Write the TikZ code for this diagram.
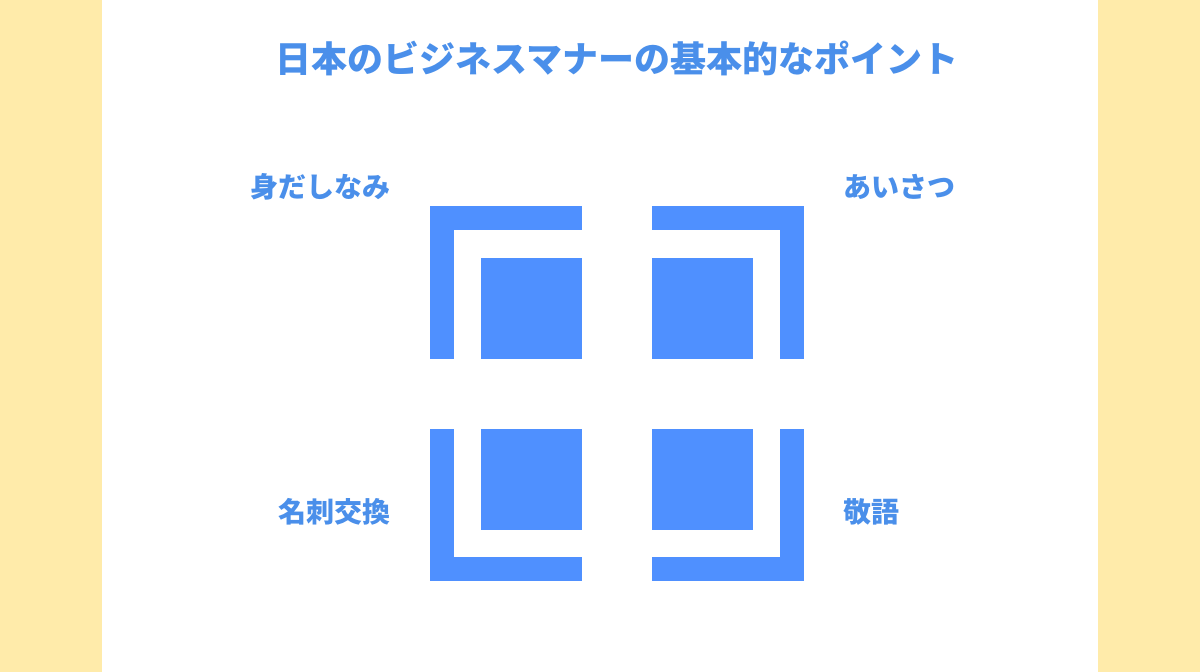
\documentclass[tikz,border=0pt]{standalone}
\usepackage{fontspec}
\newfontfamily\jpfont{Noto Sans CJK JP}
\usepackage{tikz}
\definecolor{paleyellow}{HTML}{FFEBAA}
\definecolor{markblue}{HTML}{4F90FF}
\definecolor{textblue}{HTML}{4A8FEA}
\tikzset{
	label text/.style = {text=textblue, font=\jpfont\bfseries\fontsize{28}{31}\selectfont, inner sep=0pt},
	title text/.style = {text=textblue, font=\jpfont\bfseries\fontsize{36}{40}\selectfont, inner sep=0pt}
}

\begin{document}
\begin{tikzpicture}[x=1pt, y=-1pt]
				\useasboundingbox (0,0) rectangle (1200,672);
				\draw[draw=none, fill=paleyellow] (0,0) rectangle (1200,672);
				\draw[draw=none, fill=white] (102,0) rectangle (1098,672);
				% corner brackets
				\draw[draw=none, fill=markblue] (430,206) rectangle (582,230);
				\draw[draw=none, fill=markblue] (430,206) rectangle (454,359);
				\draw[draw=none, fill=markblue] (652,206) rectangle (804,230);
				\draw[draw=none, fill=markblue] (780,206) rectangle (804,359);
				\draw[draw=none, fill=markblue] (430,429) rectangle (454,581);
				\draw[draw=none, fill=markblue] (430,557) rectangle (582,581);
				\draw[draw=none, fill=markblue] (780,429) rectangle (804,581);
				\draw[draw=none, fill=markblue] (652,557) rectangle (804,581);
				% inner squares
				\foreach \x in {481,652} {
					\foreach \y in {258,429} {
						\draw[draw=none, fill=markblue] (\x,\y) rectangle ++(101,101);
					}
				}
				\node[title text] (title) at (617,58) {日本のビジネスマナーの基本的なポイント};
				\node[label text, anchor=east] (midashinami) at (391,187) {身だしなみ};
				\node[label text, anchor=west] (aisatsu) at (843,187) {あいさつ};
				\node[label text, anchor=east] (meishi) at (391,512) {名刺交換};
				\node[label text, anchor=west] (keigo) at (843,512) {敬語};
			\end{tikzpicture}
\end{document}
